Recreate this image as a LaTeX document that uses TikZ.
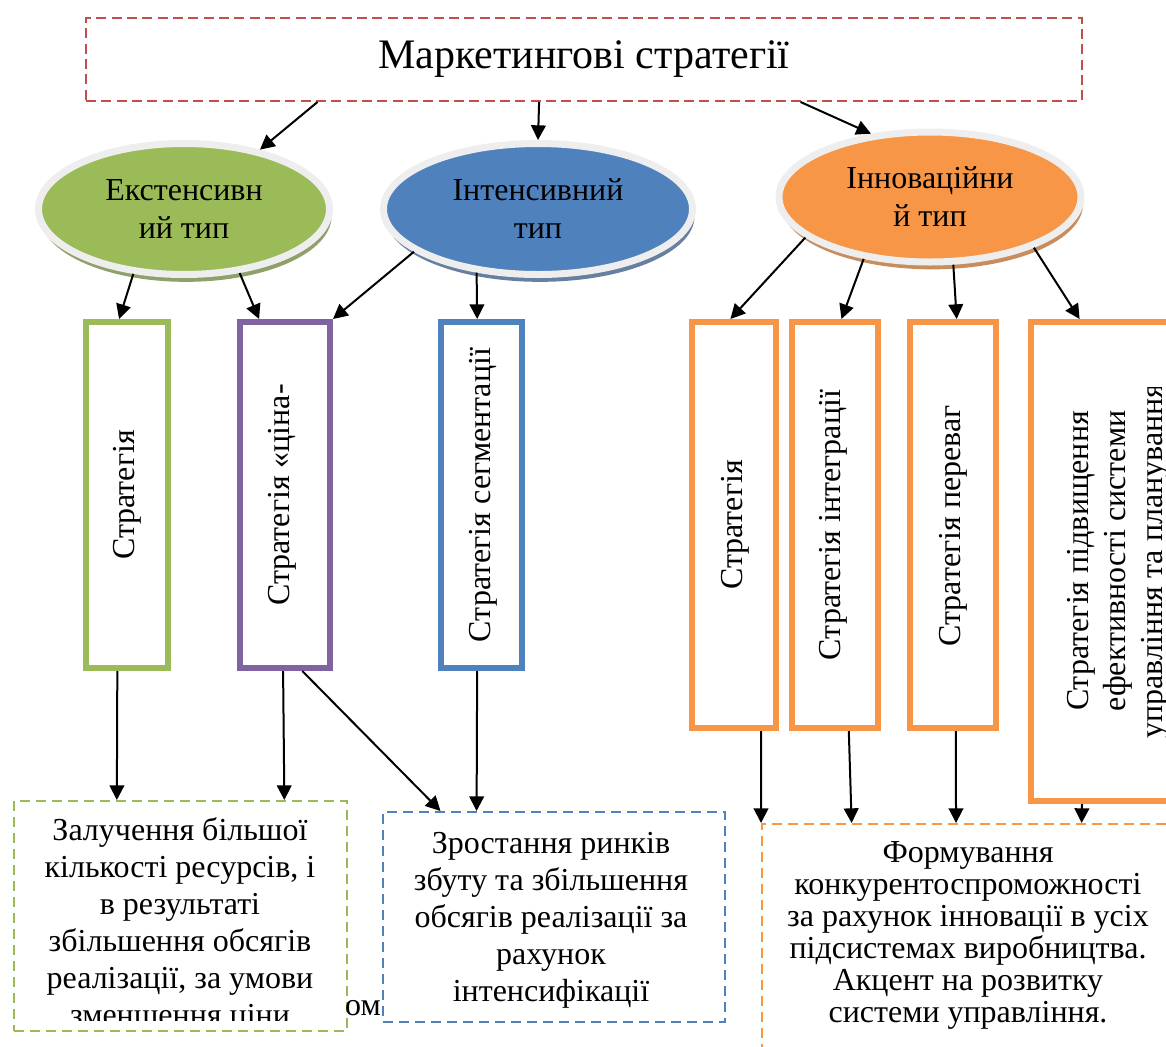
\documentclass[tikz,border=0pt]{standalone}
\usepackage{fontspec}
\setmainfont{Liberation Serif}
\usetikzlibrary{shapes.geometric, arrows.meta, calc, shadows}
\definecolor{mkred}{RGB}{192,80,77}
\definecolor{mkgreen}{RGB}{155,187,89}
\definecolor{mkblue}{RGB}{79,129,189}
\definecolor{mkorange}{RGB}{247,150,70}
\definecolor{mkpurple}{RGB}{128,100,162}
\definecolor{mkrim}{RGB}{238,238,238}

\begin{document}
\begin{tikzpicture}[
    x=0.75pt, y=-0.75pt,
    typeell/.style={ellipse, draw=mkrim, line width=5.25pt, inner sep=0pt, minimum height=98.25pt, align=center, font=\fontsize{24}{28.5}\selectfont},
    stratbox/.style={rectangle, line width=4.5pt, minimum height=259.5pt, inner sep=0pt},
    vtext/.style={rotate=90, align=center, inner sep=0pt, font=\fontsize{24}{27.75}\selectfont},
    resbox/.style={rectangle, dash pattern=on 7.5pt off 4.5pt, line width=1.5pt, inner sep=0pt},
    restext/.style={align=center, inner sep=0pt, font=\fontsize{24}{27.75}\selectfont},
    arr/.style={-{Triangle[length=11pt, width=11pt]}, line width=1.5pt}
]
\useasboundingbox (0,0) rectangle (1166,1046);
\clip (0,0) rectangle (1166,1046);

% Title
\node[draw=mkred, line width=1.5pt, dash pattern=on 7.5pt off 4pt, minimum width=747pt, minimum height=62.25pt, font=\fontsize{31.5}{36}\selectfont] (title) at (584,59.5) {Маркетингові стратегії};

% Types
\node[typeell, fill=mkgreen, minimum width=218.25pt, drop shadow={shadow xshift=1.5pt, shadow yshift=-5.5pt, fill=mkgreen!55!gray, opacity=1}] (ext) at (184,209) {Екстенсивн\\ий тип};
\node[typeell, fill=mkblue, minimum width=231.75pt, drop shadow={shadow xshift=1.5pt, shadow yshift=-5.5pt, fill=mkblue!55!gray, opacity=1}] (int) at (538,209) {Інтенсивний\\тип};
\node[typeell, fill=mkorange, minimum width=226.5pt, minimum height=97.5pt, drop shadow={shadow xshift=1.5pt, shadow yshift=-5.5pt, fill=mkorange!60!gray, opacity=1}] (inn) at (930,197) {Інноваційни\\й тип};

% Strategies
\node[stratbox, draw=mkgreen, minimum width=61.5pt] (gstrat) at (127,495) {};
\node[vtext] (gstrattext) at (127,495) {Стратегія};
\node[stratbox, draw=mkpurple, minimum width=67.5pt] (pstrat) at (285,495) {};
\node[vtext] (pstrattext) at (282,495) {Стратегія «ціна-};
\node[stratbox, draw=mkblue, minimum width=60.75pt] (bstrat) at (481.5,495) {};
\node[vtext] (bstrattext) at (483,495) {Стратегія сегментації};

\node[stratbox, draw=mkorange, minimum width=63pt, minimum height=304.5pt] (ostrat1) at (734,525) {};
\node[vtext] (ostrattext1) at (735,525) {Стратегія};
\node[stratbox, draw=mkorange, minimum width=64.5pt, minimum height=304.5pt] (ostrat2) at (835,525) {};
\node[vtext] (ostrattext2) at (833,525) {Стратегія інтеграції};
\node[stratbox, draw=mkorange, minimum width=64.5pt, minimum height=304.5pt] (ostrat3) at (953,525) {};
\node[vtext] (ostrattext3) at (953,526) {Стратегія переваг};
\node[stratbox, draw=mkorange, minimum width=124.5pt, minimum height=359.25pt] (ostrat4) at (1114,561.5) {};
\begin{scope}
  \clip (1035,387) rectangle (1166,737);
  \node[vtext] (ostrattext4) at (1118,561) {Стратегія підвищення\\ефективності системи\\управління та планування};
\end{scope}

% Results
\node[resbox, draw=mkgreen, minimum width=249.75pt, minimum height=172.5pt] (gres) at (180.5,916) {};
\begin{scope}
  \clip (16,803) rectangle (345,1020);
  \node[restext] (grestext) at (180,925) {Залучення більшої\\кількості ресурсів, і\\в результаті\\збільшення обсягів\\реалізації, за умови\\зменшення ціни};
\end{scope}
\node[restext, anchor=base] (stray) at (363,1015) {ом};
\node[resbox, draw=mkblue, minimum width=256.5pt, minimum height=157.5pt] (bres) at (554,917) {};
\node[restext] (brestext) at (551,920) {Зростання ринків\\збуту та збільшення\\обсягів реалізації за\\рахунок\\інтенсифікації};
\node[resbox, draw=mkorange, minimum width=343.5pt, minimum height=192pt] (ores) at (991,952) {};
\node[restext, font=\fontsize{24}{24}\selectfont] (orestext) at (968,935) {Формування\\конкурентоспроможності\\за рахунок інновації в усіх\\підсистемах виробництва.\\Акцент на розвитку\\системи управління.};

% Arrows
\draw[arr] ($(title.south west)!0.233!(title.south east)$) -- (ext.38);
\draw[arr] ($(title.south west)!0.455!(title.south east)$) -- (int.north);
\draw[arr] ($(title.south west)!0.717!(title.south east)$) -- (inn.133);

\draw[arr] (ext.-128) -- ($(gstrat.north west)!0.41!(gstrat.north east)$);
\draw[arr] (ext.-49) -- ($(pstrat.north west)!0.23!(pstrat.north east)$);
\draw[arr] (int.-161) -- (pstrat.north east);
\draw[arr] (int.-134) -- ($(bstrat.north west)!0.45!(bstrat.north east)$);
\draw[arr] (inn.-162) -- ($(ostrat1.north west)!0.46!(ostrat1.north east)$);
\draw[arr] (inn.-137) -- ($(ostrat2.north west)!0.57!(ostrat2.north east)$);
\draw[arr] (inn.-71) -- ($(ostrat3.north west)!0.54!(ostrat3.north east)$);
\draw[arr] (inn.-26) -- ($(ostrat4.north west)!0.30!(ostrat4.north east)$);

\draw[arr] ($(gstrat.south west)!0.39!(gstrat.south east)$) -- ($(gres.north west)!0.31!(gres.north east)$);
\draw[arr] ($(pstrat.south west)!0.48!(pstrat.south east)$) -- ($(gres.north west)!0.81!(gres.north east)$);
\draw[arr] ($(pstrat.south west)!0.68!(pstrat.south east)$) -- ($(bres.north west)!0.17!(bres.north east)$);
\draw[arr] ($(bstrat.south west)!0.45!(bstrat.south east)$) -- ($(bres.north west)!0.275!(bres.north east)$);
\draw[arr] ($(ostrat1.south west)!0.8!(ostrat1.south east)$) -- (ores.north west);
\draw[arr] ($(ostrat2.south west)!0.65!(ostrat2.south east)$) -- ($(ores.north west)!0.197!(ores.north east)$);
\draw[arr] ($(ostrat3.south west)!0.53!(ostrat3.south east)$) -- ($(ores.north west)!0.424!(ores.north east)$);
\draw[arr] ($(ostrat4.south west)!0.314!(ostrat4.south east)$) -- ($(ores.north west)!0.697!(ores.north east)$);

\end{tikzpicture}
\end{document}
